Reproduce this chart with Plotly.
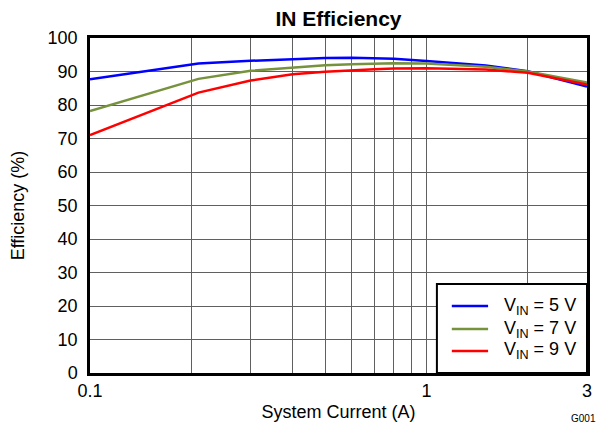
import plotly.graph_objects as go

current = [0.1, 0.21, 0.3, 0.4, 0.5, 0.6, 0.7, 0.8, 1.0, 1.5, 2.0, 3.0]
eff_5v = [87.7, 92.4, 93.2, 93.7, 94.0, 94.1, 94.0, 93.8, 93.1, 91.8, 90.1, 85.5]
eff_7v = [78.2, 87.8, 90.2, 91.2, 91.9, 92.2, 92.4, 92.5, 92.4, 91.4, 90.0, 86.7]
eff_9v = [71.0, 83.7, 87.3, 89.2, 89.9, 90.4, 90.7, 90.9, 91.0, 90.6, 89.6, 86.1]

series_names = ["V<sub>IN</sub> = 5 V", "V<sub>IN</sub> = 7 V", "V<sub>IN</sub> = 9 V"]
series_values = [eff_5v, eff_7v, eff_9v]
series_colors = ["#0000FF", "#76923C", "#FF0000"]

x_tickvals = [0.1, 0.2, 0.3, 0.4, 0.5, 0.6, 0.7, 0.8, 0.9, 1, 2, 3]
x_ticktext = ["0.1", "", "", "", "", "", "", "", "", "1", "", "3"]
y_tickvals = list(range(0, 101, 10))

fig = go.Figure()
for name, vals, color in zip(series_names, series_values, series_colors):
    fig.add_trace(go.Scatter(x=current, y=vals, mode="lines", name=name,
                             line=dict(color=color, width=2.5), showlegend=False))

font = "Liberation Sans, Arial, sans-serif"
fig.update_layout(
    width=593, height=418,
    margin=dict(l=82, r=14, t=30, b=53),
    paper_bgcolor="white", plot_bgcolor="white",
    font=dict(family=font, size=18, color="black"),
    title=dict(text="<b>IN Efficiency</b>", x=(82 + 497 / 2) / 593, xanchor="center",
               yref="container", y=1 - 11 / 418, yanchor="middle",
               font=dict(size=21)),
    showlegend=False,
    xaxis=dict(type="log", range=[-1, 0.47712], tickvals=x_tickvals,
               ticktext=x_ticktext, showgrid=True, gridcolor="#606060",
               gridwidth=1, showline=True, linecolor="black", linewidth=2.5,
               mirror=True, ticks="", zeroline=False, automargin=False,
               title=dict(text="System Current (A)", font=dict(size=18), standoff=6)),
    yaxis=dict(range=[0, 100], tickvals=y_tickvals, showgrid=True,
               gridcolor="#606060", gridwidth=1, showline=True,
               linecolor="black", linewidth=2.5, mirror=True, ticks="",
               zeroline=False, ticklabelstandoff=6, automargin=False,
               title=dict(text="Efficiency (%)", font=dict(size=18), standoff=22)),
)

# legend box (manual, inside the plot area, bottom-right)
fig.add_shape(type="rect", xref="paper", yref="paper", x0=0.698, x1=1.0,
              y0=0.0, y1=0.266, fillcolor="white", line=dict(color="black", width=2),
              layer="above")
legend_y = [0.200, 0.1313, 0.0657]
for name, color, ly in zip(series_names, series_colors, legend_y):
    fig.add_shape(type="line", xref="paper", yref="paper", x0=0.728, x1=0.801,
                  y0=ly, y1=ly, line=dict(color=color, width=2.5), layer="above")
    fig.add_annotation(text=name, xref="paper", yref="paper", x=0.829, y=ly,
                       xanchor="left", yanchor="middle", showarrow=False,
                       font=dict(size=18))

fig.add_annotation(text="G001", xref="paper", yref="paper", x=1.022, y=-0.137,
                   xanchor="right", yanchor="middle", showarrow=False,
                   font=dict(size=10))
fig.write_html("out.html")
